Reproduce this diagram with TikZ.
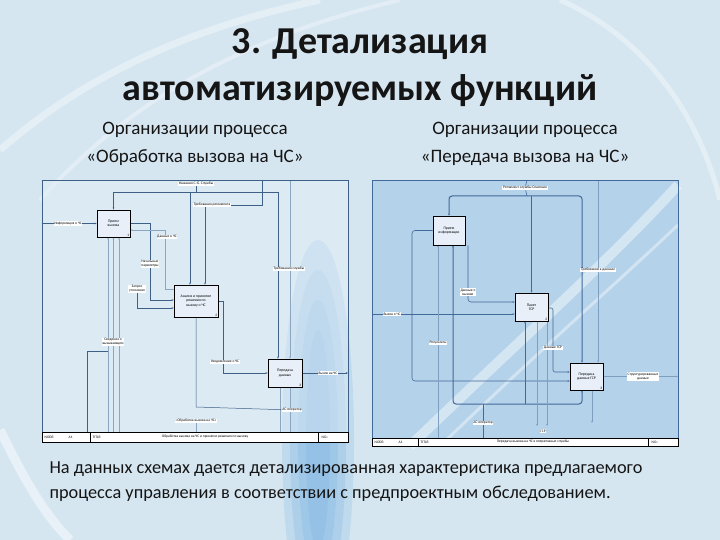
\documentclass[tikz,border=0pt]{standalone}
\usepackage{fontspec}
\setmainfont{Carlito}
\usetikzlibrary{arrows.meta}
\pgfdeclarelayer{back}
\pgfdeclarelayer{lines}
\pgfsetlayers{back,lines,main}
\definecolor{bgc}{HTML}{D6E6F1}
\definecolor{band}{HTML}{6FAEE0}
\definecolor{lpanel}{HTML}{E4EFF7}
\definecolor{rpanel}{HTML}{B4D2EA}
\definecolor{lineD}{HTML}{3E5F86}
\definecolor{lineLight}{HTML}{8AA6C0}
\definecolor{rlineT}{HTML}{41699A}
\definecolor{rlineL}{HTML}{7F9FBE}
\definecolor{boxfill}{HTML}{E8EFF8}
\definecolor{txt}{HTML}{151515}
\tikzset{
  fbox/.style={draw=black, line width=0.6pt, fill=boxfill, align=center,
    font=\fontsize{3.8}{4.4}\selectfont, inner sep=1pt},
  lab/.style={fill=white, inner sep=0.7pt, align=center,
    font=\fontsize{3.6}{4.2}\selectfont},
  numl/.style={font=\fontsize{3.5}{4}\selectfont, anchor=south east, inner sep=1pt},
  foot/.style={font=\fontsize{3.6}{4}\selectfont, inner sep=0.5pt},
  ln/.style={draw=lineD, line width=0.5pt},
  lnL/.style={draw=lineLight, line width=0.45pt},
  rlnT/.style={draw=rlineT, line width=1pt},
  rln/.style={draw=rlineT, line width=0.6pt},
  rlnL/.style={draw=rlineL, line width=0.5pt},
  arr/.style={-{Stealth[length=2.2pt,width=1.8pt]}},
}
\begin{document}
\begin{tikzpicture}[x=1pt,y=-1pt]
\useasboundingbox (0,0) rectangle (720,540);
% ---------------- background
\begin{pgfonlayer}{back}
\fill[bgc] (0,0) rectangle (720,540);
\foreach \w/\h in {36/200,28/170,20/140,12/110}{
  \fill[band, opacity=0.22] (318,440) ellipse ({\w pt} and {\h pt});
}
\draw[white, line width=7pt, opacity=0.35] (0,150) .. controls (80,80) and (180,30) .. (320,0);
\draw[white, line width=4pt, opacity=0.3] (40,200) .. controls (120,110) and (230,40) .. (400,0);
\draw[white, line width=5pt, opacity=0.35] (560,0) .. controls (650,40) and (700,120) .. (720,200);
\draw[white, line width=9pt, opacity=0.45] (0,430) .. controls (20,470) and (40,510) .. (70,540);
\fill[lpanel, opacity=0.45] (42,180) rectangle (348,442);
\fill[rpanel] (372,180) rectangle (678,446);
\draw[white, line width=10pt, opacity=0.45] (410,446) .. controls (520,340) and (610,260) .. (678,185);
\draw[white, line width=3pt, opacity=0.4] (440,446) .. controls (540,350) and (620,280) .. (678,225);
\end{pgfonlayer}
% ---------------- titles
\node[font=\fontsize{38}{47}\selectfont\bfseries, text=txt, align=center] (title) at (360,68)
  {3. Детализация\\автоматизируемых функций};
\node[font=\fontsize{19}{28}\selectfont, text=txt, align=center] (subL) at (195,144)
  {Организации процесса\\«Обработка вызова на ЧС»};
\node[font=\fontsize{19}{28}\selectfont, text=txt, align=center] (subR) at (525,144)
  {Организации процесса\\«Передача вызова на ЧС»};
\node[font=\fontsize{18.3}{25}\selectfont, text=txt, align=left, anchor=west] (desc) at (46,482)
  {На данных схемах дается детализированная характеристика предлагаемого\\процесса управления в соответствии с предпроектным обследованием.};

% ================= LEFT DIAGRAM
\node[draw=lineD, line width=0.5pt, minimum width=306, minimum height=262, anchor=north west, inner sep=0] (LF) at (42,180) {};
\node[fbox, minimum width=33, minimum height=27] (L1) at (113.5,223.5) {Прием\\вызова};
\node[fbox, minimum width=44, minimum height=32] (L2) at (196,301) {Анализ и принятие\\решения по\\вызову о ЧС};
\node[fbox, minimum width=34, minimum height=28] (L3) at (285,373) {Передача\\данных};
\foreach \b/\n in {L1/1,L2/2,L3/3}{
  \draw[line width=1.1pt] (\b.south west) -| (\b.north east);
  \node[numl] at (\b.south east) {\n};
}
% labels
\node[lab] (lt) at (196,184) {Указания С.-Б. Службы};
\node[lab] (lin) at (68,223.5) {Информация о ЧС};
\node[lab] (lreq) at (212,205) {Требования регламента};
\node[lab] (lcs) at (167,237) {Данные о ЧС};
\node[lab] (lnp) at (150,264) {Начальные\\параметры};
\node[lab] (lzp) at (137,289) {Запрос\\уточнения};
\node[lab] (ltr) at (289,269) {Требования службы};
\node[lab] (lsv) at (113,342) {Сведения о\\вызывающем};
\node[lab] (lun) at (225,362) {Уведомление о ЧС};
\node[lab] (lout) at (328,373) {Вызов на ЧС};
\node[lab] (las) at (292,410) {АС-оператор};
\node[lab] (lbot) at (196,421) {«Обработка вызова на ЧС»};
% footer
\node[draw=black, fill=white, line width=0.6pt, minimum width=306, minimum height=10, anchor=north west, inner sep=0] (LFT) at (42,432) {};
\node[foot, anchor=west] at (44,437) {NODE:};
\node[foot, anchor=west] at (68,437) {A1};
\node[foot, anchor=west] at (92,437) {TITLE:};
\node[foot] at (205,437) {Обработка вызова на ЧС и принятие решения по вызову};
\node[foot, anchor=west] at (321,437) {NO.:};
\draw[line width=0.5pt] (90,432) -- (90,442) (318,432) -- (318,442);
\begin{pgfonlayer}{lines}
\coordinate (t1) at (196,192);
\draw[ln] (lt) -- (t1);
\draw[ln,arr] (t1) -| (L1.north);
\draw[ln,arr] (t1) -| ([xshift=-7pt]L3.north);
\draw[ln,arr] ([xshift=-6pt]L2.north |- t1) -- ([xshift=-6pt]L2.north);
\draw[ln] (262,180) |- (lreq);
\draw[ln,arr] ([xshift=9pt]L2.north |- lreq) -- ([xshift=9pt]L2.north);
\draw[lnL,arr] (290,180) -- ([xshift=5pt]L3.north);
\draw[lnL] ([xshift=5pt]L3.south) -- (290,432);
\draw[lnL] ([xshift=-5pt]L3.south) -- (280,432);
\draw[ln,arr] (42,223.5) -- (L1.west);
\draw[ln,arr] (L1.east) -- (150,223.5) -- (150,300) -- ([yshift=1pt]L2.west);
\draw[lnL,arr] ([yshift=12pt]L2.west) -- (165,289) -- (165,230) -- ([yshift=-6.5pt]L1.east);
\draw[ln,arr] (lzp) -- (137,308) -- ([yshift=-7pt]L2.west);
\draw[lnL,arr] (108,432) -- ([xshift=-5.5pt]L1.south);
\draw[lnL,arr] (113.5,432) -- (L1.south);
\draw[lnL,arr] (119,432) -- ([xshift=5.5pt]L1.south);
\draw[ln] (87,432) -- (87,351) -- (108,351);
\draw[ln] (L2.south) -- (196,407) -- (las);
\draw[ln,arr] (L2.east) -- (223,301) -- (223,373) -- (L3.west);
\draw[ln,arr] (L3.east) -- (348,373);
\draw[lnL] (lbot) -- (196,432);
\end{pgfonlayer}

% ================= RIGHT DIAGRAM
\node[draw=rlineT, line width=0.6pt, minimum width=306, minimum height=266, anchor=north west, inner sep=0] (RF) at (372,180) {};
\node[fbox, minimum width=32, minimum height=29] (R1) at (449,230.5) {Прием\\информации};
\node[fbox, minimum width=33, minimum height=28] (R2) at (531.5,307) {Пакет\\ГСР};
\node[fbox, minimum width=33, minimum height=27] (R3) at (586.5,376.5) {Передача\\данных ГСР};
\foreach \b/\n in {R1/1,R2/2,R3/3}{
  \draw[line width=1.1pt] (\b.south west) -| (\b.north east);
}
\node[numl] at (R2.south east) {2};
\node[numl] at (R3.south east) {3};
\node[lab] (rt) at (525,188) {Регламент службы Спасения};
\node[lab] (rreq) at (598,270) {Требования к данным};
\node[lab] (rdv) at (468,292) {Данные о\\вызове};
\node[lab] (rin) at (392,314) {Вызов о ЧС};
\node[lab] (rres) at (438,343) {Результаты};
\node[lab] (rgd) at (553,348) {Данные ГСР};
\node[lab] (rout) at (643,376.5) {Структурированные\\данные};
\node[lab] (ras) at (483,423) {АС-оператор};
\node[lab] (rgsr) at (543,431) {ГСР};
\node[draw=black, fill=white, line width=0.6pt, minimum width=306, minimum height=8, anchor=north west, inner sep=0] (RFT) at (372,438) {};
\node[foot, anchor=west] at (374,442) {NODE:};
\node[foot, anchor=west] at (398,442) {A1};
\node[foot, anchor=west] at (420,442) {TITLE:};
\node[foot] at (533,442) {Передача вызова на ЧС в оперативные службы};
\node[foot, anchor=west] at (651,442) {NO.:};
\draw[line width=0.5pt] (418,438) -- (418,446) (648,438) -- (648,446);
\begin{pgfonlayer}{lines}
\coordinate (rtc) at (527,196);
\draw[rln] (527,180) -- (rt);
\draw[rln] (rt) -- (rtc);
\draw[rlnT,arr,rounded corners=3pt] (rtc) -| (R1.north);
\draw[rlnT,arr,rounded corners=3pt] (rtc) -| ([xshift=-4.5pt]R3.north);
\draw[rlnT,arr] (R2.north |- rtc) -- (R2.north);
\draw[rlnL,arr] (598,180) -- ([xshift=11.5pt]R3.north);
\draw[rlnT,arr] (372,314) -- ([yshift=-7pt]R2.west);
\draw[rln,arr,rounded corners=3pt] (R1.west) -| (412,381) -- ([yshift=-4.5pt]R3.west);
\draw[rlnL,arr] (438,438) -- ([xshift=-11pt]R1.south);
\draw[rln,arr,rounded corners=3pt] ([xshift=19pt]R1.south) |- ([yshift=5pt]R2.west);
\coordinate (mb) at (483,404);
\draw[rlnT] (483,438) -- (mb);
\draw[rlnT,arr,rounded corners=3pt] (mb) -| ([xshift=4pt]R1.south);
\draw[rlnT,arr,rounded corners=3pt] (mb) -| ([xshift=-4.5pt]R3.south);
\draw[rlnT,arr] ([xshift=-6.5pt]R2.south |- mb) -- ([xshift=-6.5pt]R2.south);
\draw[rln,arr,rounded corners=2pt] ([yshift=-1pt]R2.east) -| (553,372) -- ([yshift=4.5pt]R3.west);
\draw[rlnL,arr] ([xshift=5.5pt]R2.south) -- (537,426);
\draw[rlnL,arr] ([xshift=15.5pt]R2.south) -- (547,426);
\draw[rlnL,arr] ([xshift=5.5pt]R3.south) -- (592,423);
\draw[rlnL,arr] (R3.east) -- (678,376.5);
\end{pgfonlayer}
\end{tikzpicture}
\end{document}
